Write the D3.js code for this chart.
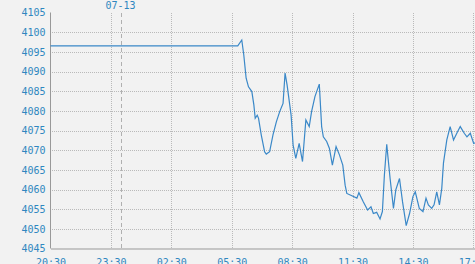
<!DOCTYPE html>
<html>
<head>
<meta charset="utf-8">
<script src="https://cdn.jsdelivr.net/npm/d3@7"></script>
<style>
  html, body { margin: 0; padding: 0; background: #f2f2f2; overflow: hidden; }
  svg { display: block; }
</style>
</head>
<body>
<div id="app"></div>
<script>
// data
const times = [
  '07-12 20:30', '07-13 05:48', '07-13 06:00', '07-13 06:06', '07-13 06:13', '07-13 06:20',
  '07-13 06:30', '07-13 06:36', '07-13 06:40', '07-13 06:46', '07-13 06:50', '07-13 06:58',
  '07-13 07:08', '07-13 07:13', '07-13 07:23', '07-13 07:33', '07-13 07:43', '07-13 07:53',
  '07-13 08:03', '07-13 08:09', '07-13 08:15', '07-13 08:27', '07-13 08:33', '07-13 08:41',
  '07-13 08:51', '07-13 09:01', '07-13 09:11', '07-13 09:21', '07-13 09:28', '07-13 09:38',
  '07-13 09:51', '07-13 09:58', '07-13 10:03', '07-13 10:13', '07-13 10:21', '07-13 10:30',
  '07-13 10:41', '07-13 10:51', '07-13 11:01', '07-13 11:08', '07-13 11:13', '07-13 11:28',
  '07-13 11:43', '07-13 11:49', '07-13 12:02', '07-13 12:15', '07-13 12:25', '07-13 12:32',
  '07-13 12:42', '07-13 12:52', '07-13 12:59', '07-13 13:05', '07-13 13:12', '07-13 13:15',
  '07-13 13:22', '07-13 13:32', '07-13 13:39', '07-13 13:50', '07-13 13:59', '07-13 14:10',
  '07-13 14:20', '07-13 14:30', '07-13 14:37', '07-13 14:49', '07-13 15:00', '07-13 15:09',
  '07-13 15:16', '07-13 15:26', '07-13 15:33', '07-13 15:41', '07-13 15:49', '07-13 15:56',
  '07-13 16:01', '07-13 16:11', '07-13 16:21', '07-13 16:31', '07-13 16:43', '07-13 16:51',
  '07-13 17:03', '07-13 17:11', '07-13 17:21', '07-13 17:31', '07-13 17:39'
];
const prices = [
  4096.5, 4096.5, 4098, 4094.2, 4088.3, 4086.1,
  4084.9, 4081.5, 4078.1, 4078.9, 4078.1, 4073.9,
  4069.6, 4069, 4069.6, 4073.9, 4077.2, 4079.8,
  4081.9, 4089.6, 4086.6, 4078.9, 4071.3, 4067.9,
  4071.7, 4067.1, 4077.7, 4076, 4079.8, 4083.6,
  4086.8, 4076, 4073.4, 4072.2, 4070.5, 4066.2,
  4070.9, 4068.8, 4066.2, 4061.1, 4059, 4058.4,
  4057.8, 4059.2, 4056.9, 4054.8, 4055.6, 4053.9,
  4054.2, 4052.5, 4054.4, 4063.7, 4071.5, 4068.8,
  4062.8, 4055.2, 4059.9, 4062.8, 4056.9, 4050.8,
  4053.9, 4058.2, 4059.4, 4055.2, 4054.4, 4057.8,
  4056.1, 4055.2, 4056.1, 4059.4, 4056.1, 4060.3,
  4066.7, 4072.6, 4076, 4072.6, 4074.7, 4076,
  4074.3, 4073.4, 4074.3, 4071.7, 4072
];
const yTicks = [4045, 4050, 4055, 4060, 4065, 4070, 4075, 4080, 4085, 4090, 4095, 4100, 4105];
const xTickLabels = ['07-12 20:30', '07-12 23:30', '07-13 02:30', '07-13 05:30', '07-13 08:30', '07-13 11:30', '07-13 14:30', '07-13 17:30'];
const dayMarker = { time: '07-13 00:00', label: '07-13' };
const timeStart = '07-12 20:30';
const timeEnd = '07-13 17:35';

const width = 475;
const height = 264;
const margin = { top: 12.5, left: 50.5, bottom: 15.5 };

const parse = d3.timeParse('%m-%d %H:%M');
const fmt = d3.timeFormat('%H:%M');
const data = times.map((t, i) => ({ t: parse(t), v: prices[i] }));

const x = d3.scaleTime()
  .domain([parse(timeStart), parse(timeEnd)])
  .range([margin.left, width]);
const y = d3.scaleLinear()
  .domain([4045, 4105])
  .range([height - margin.bottom, margin.top]);

const svg = d3.select('#app').append('svg')
  .attr('width', width)
  .attr('height', height)
  .style('font-family', '"DejaVu Sans Mono", monospace')
  .style('font-size', '10px');

// grid, dashes aligned to whole pixels so dots stay crisp
svg.append('g')
  .selectAll('line')
  .data(yTicks.slice(1, -1))
  .enter().append('line')
  .attr('x1', Math.ceil(margin.left) + 1)
  .attr('x2', width)
  .attr('y1', d => Math.round(y(d)) + 0.5)
  .attr('y2', d => Math.round(y(d)) + 0.5)
  .attr('stroke', '#bababa')
  .attr('stroke-dasharray', '1,1');

svg.append('g')
  .selectAll('line')
  .data(xTickLabels.slice(1).map(parse))
  .enter().append('line')
  .attr('x1', d => Math.round(x(d)) + 0.5)
  .attr('x2', d => Math.round(x(d)) + 0.5)
  .attr('y1', Math.ceil(margin.top))
  .attr('y2', height - margin.bottom)
  .attr('stroke', '#bababa')
  .attr('stroke-dasharray', '1,1');

// day marker
const dx = Math.round(x(parse(dayMarker.time))) + 0.5;
svg.append('line')
  .attr('x1', dx).attr('x2', dx)
  .attr('y1', Math.ceil(margin.top)).attr('y2', height - margin.bottom)
  .attr('stroke', '#b0b0b0')
  .attr('stroke-dasharray', '4,3');
svg.append('text')
  .attr('x', dx - 1)
  .attr('y', 9)
  .attr('text-anchor', 'middle')
  .attr('fill', '#2f87c0')
  .text(dayMarker.label);

// axes
const yAxis = svg.append('g')
  .attr('transform', `translate(${margin.left},0)`)
  .call(d3.axisLeft(y).tickValues(yTicks).tickFormat(d3.format('d')).tickSize(0).tickPadding(5));
const xAxis = svg.append('g')
  .attr('transform', `translate(0,${height - margin.bottom})`)
  .call(d3.axisBottom(x).tickValues(xTickLabels.map(parse)).tickFormat(fmt).tickSize(0).tickPadding(10));

[yAxis, xAxis].forEach(a => {
  a.select('.domain').attr('stroke', '#999');
  a.selectAll('text')
    .attr('fill', '#2f87c0')
    .style('font-family', '"DejaVu Sans Mono", monospace')
    .style('font-size', '10px');
});
yAxis.select('.domain').attr('d', `M0,${margin.top}V${height - margin.bottom}`);

// price line
svg.append('path')
  .datum(data)
  .attr('fill', 'none')
  .attr('stroke', '#3a88c8')
  .attr('stroke-width', 1.2)
  .attr('d', d3.line().x(d => x(d.t)).y(d => y(d.v)));
</script>
</body>
</html>
